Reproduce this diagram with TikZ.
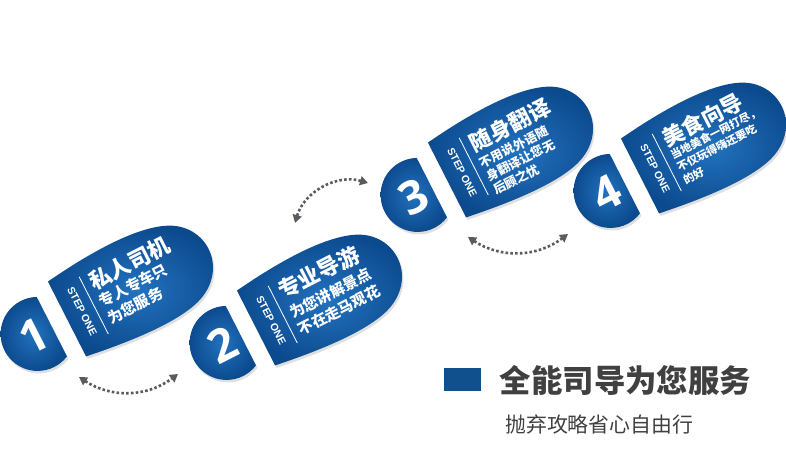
\documentclass[tikz,border=0pt]{standalone}
\usepackage{fontspec}
\setmainfont{Liberation Sans}
\newfontfamily\cjk{Noto Sans CJK SC}
\newfontfamily\numfont{Open Sans}
\usepackage{tikz}
\usetikzlibrary{arrows.meta, positioning, shadows}
\definecolor{footblue}{RGB}{34,114,190}
\definecolor{footdark}{RGB}{12,74,142}
\definecolor{boxblue}{RGB}{16,80,140}
\definecolor{linkgray}{RGB}{90,90,95}
\definecolor{textgray}{RGB}{64,64,64}
\tikzstyle{sole} = [inner color=footblue, outer color=footdark, drop shadow={opacity=0.25, shadow xshift=1.5bp, shadow yshift=-2.5bp}]
\tikzstyle{heel} = [inner color=footblue, outer color=footdark, drop shadow={opacity=0.25, shadow xshift=1.5bp, shadow yshift=-2.5bp}]
\tikzstyle{digit} = [text=white, inner sep=0, font=\numfont\bfseries\fontsize{46}{46}\selectfont]
\tikzstyle{steplabel} = [text=white, inner sep=0, rotate=-90, font=\bfseries\fontsize{10.5}{10.5}\selectfont]
\tikzstyle{headtext} = [text=white, anchor=west, inner sep=0, font=\cjk\bfseries\fontsize{22}{22}\selectfont]
\tikzstyle{bodytext} = [text=white, anchor=west, inner sep=0, font=\cjk\bfseries\fontsize{#1}{#1}\selectfont]
\tikzstyle{link} = [linkgray, line width=2.6bp, dash pattern=on 2.6bp off 2.2bp, {Triangle[length=8bp,width=9bp]}-{Triangle[length=8bp,width=9bp]}]
\tikzstyle{legendbox} = [rectangle, fill=boxblue, minimum width=37bp, minimum height=23bp, inner sep=0]

\begin{document}
\begin{tikzpicture}[x=1bp, y=1bp]
        \useasboundingbox (0,0) rectangle (786,466);

        % Schritt 1
        \begin{scope}[shift={(67,147)}, rotate=27, transform shape]
            \path[sole] (0,42) .. controls (45,48) and (105,52) .. (135,36) .. controls (168,18) and (166,-30) .. (125,-44) .. controls (95,-54) and (40,-48) .. (0,-42) -- cycle;
            \path[heel] (-17,33.4) arc[start angle=64.4, end angle=295.6, radius=37] -- cycle;
            \node (n1) [digit] at (-37,0) {1};
            \node (s1) [steplabel] at (17,0) {STEP ONE};
            \draw[white, line width=0.8bp] (30,32) -- (30,-32);
            \node (h1) [headtext] at (37,21) {私人司机};
            \node (b1a) [bodytext=15] at (37,0) {专人专车只};
            \node (b1b) [bodytext=15] at (37,-19) {为您服务};
        \end{scope}

        % Schritt 2
        \begin{scope}[shift={(256,138)}, rotate=27, transform shape]
            \path[sole] (0,42) .. controls (45,48) and (105,52) .. (135,36) .. controls (168,18) and (166,-30) .. (125,-44) .. controls (95,-54) and (40,-48) .. (0,-42) -- cycle;
            \path[heel] (-17,33.4) arc[start angle=64.4, end angle=295.6, radius=37] -- cycle;
            \node (n2) [digit] at (-37,0) {2};
            \node (s2) [steplabel] at (17,0) {STEP ONE};
            \draw[white, line width=0.8bp] (30,32) -- (30,-32);
            \node (h2) [headtext] at (37,21) {专业导游};
            \node (b2a) [bodytext=15] at (37,-3) {为您讲解景点};
            \node (b2b) [bodytext=15] at (37,-22) {不在走马观花};
        \end{scope}

        % Schritt 3
        \begin{scope}[shift={(447,286)}, rotate=27, transform shape]
            \path[sole] (0,42) .. controls (45,48) and (105,52) .. (135,36) .. controls (168,18) and (166,-30) .. (125,-44) .. controls (95,-54) and (40,-48) .. (0,-42) -- cycle;
            \path[heel] (-17,33.4) arc[start angle=64.4, end angle=295.6, radius=37] -- cycle;
            \node (n3) [digit] at (-37,0) {3};
            \node (s3) [steplabel] at (17,0) {STEP ONE};
            \draw[white, line width=0.8bp] (30,32) -- (30,-32);
            \node (h3) [headtext] at (37,20) {随身翻译};
            \node (b3a) [bodytext=12.5] at (37,-1) {不用说外语随};
            \node (b3b) [bodytext=12.5] at (37,-16) {身翻译让您无};
            \node (b3c) [bodytext=12.5] at (37,-31) {后顾之忧};
        \end{scope}

        % Schritt 4
        \begin{scope}[shift={(640,290)}, rotate=27, transform shape]
            \path[sole] (0,42) .. controls (45,48) and (105,52) .. (135,36) .. controls (168,18) and (166,-30) .. (125,-44) .. controls (95,-54) and (40,-48) .. (0,-42) -- cycle;
            \path[heel] (-17,33.4) arc[start angle=64.4, end angle=295.6, radius=37] -- cycle;
            \node (n4) [digit] at (-37,0) {4};
            \node (s4) [steplabel] at (17,0) {STEP ONE};
            \draw[white, line width=0.8bp] (30,32) -- (30,-32);
            \node (h4) [headtext] at (37,22) {美食向导};
            \node (b4a) [bodytext=11] at (37,4) {当地美食一网打尽，};
            \node (b4b) [bodytext=11] at (37,-10) {不仅玩得嗨还要吃};
            \node (b4c) [bodytext=11] at (37,-24) {的好};
        \end{scope}

        % Pfeile
        \coordinate (p1) at (79,89);
        \coordinate (p2) at (178,92);
        \coordinate (p3) at (295,243);
        \coordinate (p4) at (368,283);
        \coordinate (p5) at (468,229);
        \coordinate (p6) at (568,232);
        \draw [link] (p1) to[bend right=35] (p2);
        \draw [link] (p3) to[bend left=45] (p4);
        \draw [link] (p5) to[bend right=35] (p6);

        % Legende
        \node (legbox) [legendbox] at (462,86) {};
        \node (legtitle) [right=19bp of legbox, inner sep=0, text=textgray, font=\cjk\bfseries\fontsize{31.5}{31.5}\selectfont] {全能司导为您服务};
        \node (legsub) [anchor=west, inner sep=0, text=textgray, font=\cjk\fontsize{21}{21}\selectfont] at (505,41) {抛弃攻略省心自由行};
    \end{tikzpicture}
\end{document}
